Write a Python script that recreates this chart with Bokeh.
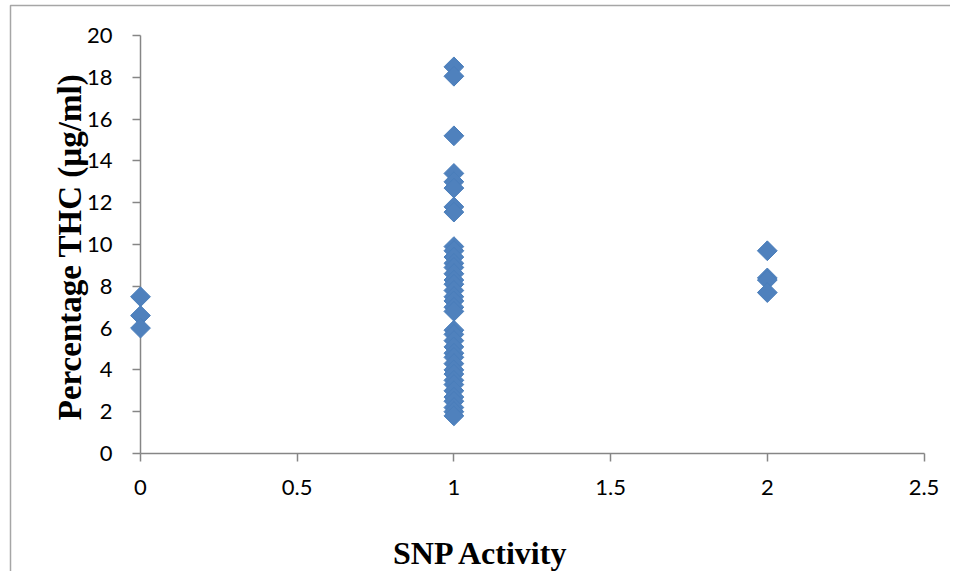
import math
from bokeh.plotting import figure
from bokeh.models import Range1d, FixedTicker, Label, LinearAxis
from bokeh.embed import file_html
from bokeh.resources import INLINE

# ---- data ----
snp_0 = [7.5, 6.6, 6.0]
snp_1 = [18.5, 18.05, 15.2, 13.4, 13.0, 12.7, 11.8, 11.55,
         9.9, 9.7, 9.4, 9.1, 8.9, 8.6, 8.3, 8.1, 7.8, 7.5, 7.3, 7.0, 6.8,
         5.9, 5.7, 5.4, 5.1, 4.8, 4.6, 4.3, 4.0, 3.8, 3.5, 3.3, 3.0, 2.7,
         2.5, 2.2, 2.0, 1.8]
snp_2 = [9.7, 8.4, 8.3, 7.7]
x_ticks = [0, 0.5, 1, 1.5, 2, 2.5]
x_tick_labels = ["0", "0.5", "1", "1.5", "2", "2.5"]
y_ticks = [0, 2, 4, 6, 8, 10, 12, 14, 16, 18, 20]
x_title = "SNP Activity"
y_title = "Percentage THC (µg/ml)"

xs = [0] * len(snp_0) + [1] * len(snp_1) + [2] * len(snp_2)
ys = snp_0 + snp_1 + snp_2

W, H = 950, 571
px_x = 313.4   # pixels per x unit
px_y = 20.9    # pixels per y unit
x0_pix, y0_pix = 140, 453


def dx(pix):
    return (pix - x0_pix) / px_x


def dy(pix):
    return (y0_pix - pix) / px_y


p = figure(width=W, height=H, output_backend="svg", toolbar_location=None,
           x_range=Range1d(dx(0), dx(W)), y_range=Range1d(dy(H), dy(0)),
           x_axis_location=None, y_axis_location=None,
           min_border=0)
p.outline_line_color = None
p.grid.visible = False

# image frame (left and top edges)
p.line([dx(10), dx(10), dx(W + 50)], [dy(H + 50), dy(5), dy(5)],
       line_color="#a6a6a6", line_width=1.5)

xaxis = LinearAxis(fixed_location=0, bounds=(0, 2.5),
                   ticker=FixedTicker(ticks=x_ticks))
xaxis.major_label_overrides = {t: l for t, l in zip(x_ticks, x_tick_labels)}
yaxis = LinearAxis(fixed_location=0, bounds=(0, 20),
                   ticker=FixedTicker(ticks=y_ticks))
p.add_layout(xaxis, "below")
p.add_layout(yaxis, "left")

for ax in (xaxis, yaxis):
    ax.axis_line_color = "#868686"
    ax.axis_line_width = 1.5
    ax.major_tick_line_color = "#868686"
    ax.major_tick_line_width = 1.5
    ax.major_tick_in = 0
    ax.major_tick_out = 8
    ax.minor_tick_line_color = None
    ax.major_label_text_font = "Lato"
    ax.major_label_text_font_size = "22px"
    ax.major_label_text_color = "black"
xaxis.major_label_standoff = 18
yaxis.major_label_standoff = 20

r = p.scatter(xs, ys, marker="square", size=14, angle=math.pi / 4,
              fill_color="#4F81BD", line_color="#4A7EBB", line_width=1)
r.level = "overlay"

# axis titles
p.add_layout(Label(x=dx(481), y=dy(552), text=x_title, text_align="center",
                   text_baseline="alphabetic", text_font="Liberation Serif",
                   text_font_style="bold", text_font_size="32px",
                   text_color="black"))
p.add_layout(Label(x=dx(69), y=dy(246.5), text=y_title, angle=math.pi / 2,
                   text_align="center", text_baseline="middle",
                   text_font="Liberation Serif", text_font_style="bold",
                   text_font_size="33px", text_color="black"))

open("out.html", "w").write(file_html(p, INLINE))
